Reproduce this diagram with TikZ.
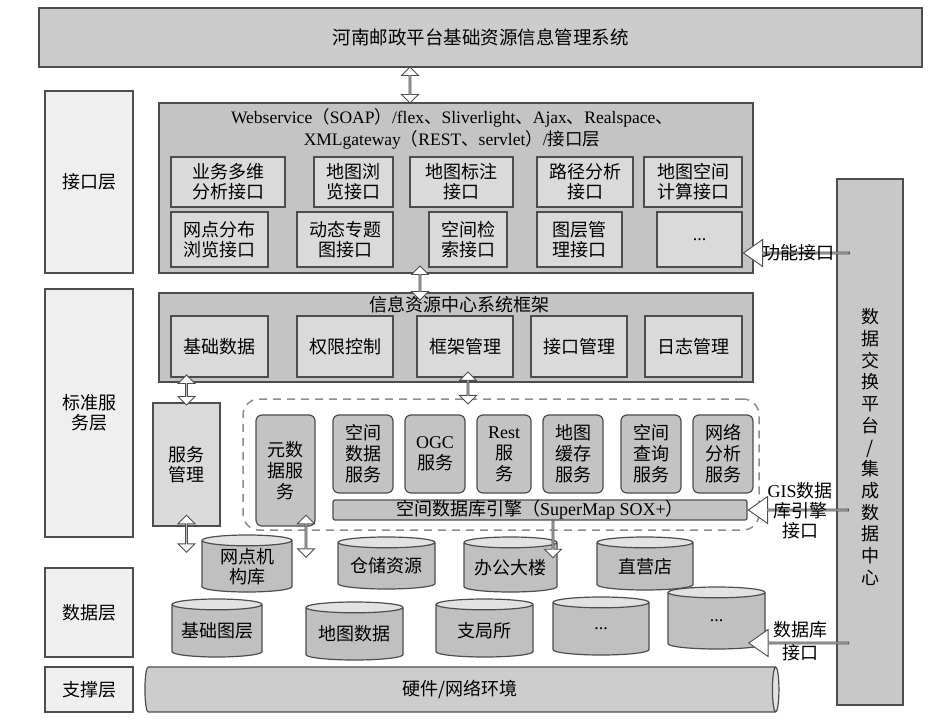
\documentclass[tikz,border=0pt]{standalone}
\usepackage{fontspec}
\setmainfont{Liberation Serif}
\newfontfamily\cjk{Noto Sans CJK SC}
\usetikzlibrary{shapes.geometric,shapes.arrows,calc}
\definecolor{edgegray}{HTML}{4D4D4D}
\definecolor{topgray}{HTML}{CCCCCC}
\definecolor{lyrgray}{HTML}{EFEFEF}
\definecolor{biggray}{HTML}{C4C4C4}
\definecolor{subgray}{HTML}{DADADA}
\definecolor{svcgray}{HTML}{C3C3C3}
\definecolor{dbgray}{HTML}{C0C0C0}
\definecolor{dbtop}{HTML}{E2E2E2}
\definecolor{dexgray}{HTML}{C8C8C8}
\definecolor{dashgray}{HTML}{8C8C8C}
\newcommand{\en}[1]{{\rmfamily #1}}

\begin{document}
\begin{tikzpicture}[x=1pt,y=-1pt,
        every node/.style={font=\cjk\fontsize{18}{20}\selectfont,align=center,inner sep=0pt},
        box/.style={rectangle,draw=edgegray,line width=1.2pt},
        lyr/.style={box,fill=lyrgray,minimum width=88pt},
        big/.style={box,fill=biggray,minimum width=594pt},
        sub/.style={box,fill=subgray},
        svc/.style={box,fill=svcgray,rounded corners=6pt,minimum width=60pt,font=\cjk\fontsize{18}{21}\selectfont},
        db/.style={cylinder,shape border rotate=90,draw=edgegray,line width=1.2pt,aspect=0.15,text width=72pt,
            cylinder uses custom fill,cylinder body fill=dbgray,cylinder end fill=dbtop},
        arr/.style={double arrow,draw=edgegray,fill=white,line width=0.9pt,minimum width=17pt,
            double arrow head extend=4pt,rotate=90},
        parr/.style={single arrow,draw=edgegray,fill=white,line width=0.9pt,minimum width=27pt,
            single arrow head extend=7pt,single arrow tip angle=70,rotate=180}
    ]
    \useasboundingbox (0,0) rectangle (947,719);

    \node[box,fill=topgray,minimum width=883pt,minimum height=59pt,font=\cjk\fontsize{18.5}{20}\selectfont] (top) at (480.5,37.5) {河南邮政平台基础资源信息管理系统};

    \node[lyr,minimum height=182pt] (lyIfc) at (89,182) {接口层};
    \node[lyr,minimum height=248pt] (lySvc) at (89,413) {标准服\\务层};
    \node[lyr,minimum height=89pt] (lyData) at (89,612.5) {数据层};
    \node[lyr,minimum height=45pt] (lySup) at (89,689.5) {支撑层};

    \node[big,minimum height=170pt] (ifc) at (456,188) {};
    \node[font=\cjk\fontsize{17.5}{22}\selectfont] (ifcTitle) at (452,129)
        {\en{Webservice}（\en{SOAP}）\en{/flex}、\en{Sliverlight}、\en{Ajax}、\en{Realspace}、\\
         \en{XMLgateway}（\en{REST}、\en{servlet}）\en{/}接口层};
    \node[sub,minimum width=114pt,minimum height=50pt] (iBiz) at (228,182) {业务多维\\分析接口};
    \node[sub,minimum width=79pt,minimum height=50pt] (iBrowse) at (353.5,182) {地图浏\\览接口};
    \node[sub,minimum width=103pt,minimum height=50pt] (iMark) at (461.5,182) {地图标注\\接口};
    \node[sub,minimum width=96pt,minimum height=50pt] (iRoute) at (585,182) {路径分析\\接口};
    \node[sub,minimum width=98pt,minimum height=50pt] (iCalc) at (693,182) {地图空间\\计算接口};
    \node[sub,minimum width=97pt,minimum height=55pt] (iSite) at (219.5,239.5) {网点分布\\浏览接口};
    \node[sub,minimum width=96pt,minimum height=55pt] (iTheme) at (345,239.5) {动态专题\\图接口};
    \node[sub,minimum width=78pt,minimum height=55pt] (iQuery) at (468,239.5) {空间检\\索接口};
    \node[sub,minimum width=85pt,minimum height=55pt] (iLayer) at (579.5,239.5) {图层管\\理接口};
    \node[sub,minimum width=85pt,minimum height=55pt] (iMore) at (699.5,239.5) {\en{...}};

    \node[big,minimum height=89pt] (frm) at (456,337.5) {};
    \node (frmTitle) at (459,305) {信息资源中心系统框架};
    \node[sub,minimum width=97pt,minimum height=61pt] (fBase) at (219.5,346.5) {基础数据};
    \node[sub,minimum width=96pt,minimum height=61pt] (fAuth) at (345,346.5) {权限控制};
    \node[sub,minimum width=96pt,minimum height=61pt] (fFrame) at (465,346.5) {框架管理};
    \node[sub,minimum width=96pt,minimum height=61pt] (fIfc) at (579,346.5) {接口管理};
    \node[sub,minimum width=97pt,minimum height=61pt] (fLog) at (693.5,346.5) {日志管理};

    \node[sub,minimum width=67pt,minimum height=123pt] (svcMgr) at (186.5,464.5) {服务\\管理};
    \node[draw=dashgray,dashed,dash pattern=on 8pt off 6pt,line width=1.5pt,rounded corners=16pt,
        minimum width=516pt,minimum height=131pt] (gis) at (501,464.5) {};
    \node[svc,minimum width=59pt,minimum height=111pt] (sMeta) at (285.5,470.5) {元数\\据服\\务};
    \node[svc,minimum height=78pt] (sSpace) at (363,454) {空间\\数据\\服务};
    \node[svc,minimum height=78pt] (sOgc) at (435,454) {\en{OGC}\\服务};
    \node[svc,minimum width=54pt,minimum height=78pt] (sRest) at (504,454) {\en{Rest}\\服\\务};
    \node[svc,minimum height=78pt] (sCache) at (573,454) {地图\\缓存\\服务};
    \node[svc,minimum height=78pt] (sQuery) at (651,454) {空间\\查询\\服务};
    \node[svc,minimum height=78pt] (sNet) at (723,454) {网络\\分析\\服务};
    \node[svc,rounded corners=2pt,minimum width=414pt,minimum height=20pt] (eng) at (540,510)
        {空间数据库引擎（\en{SuperMap SOX+}）};

    \node[db,minimum width=90pt,minimum height=57pt] (dSite) at (247,566.5) {网点机\\构库};
    \node[db,minimum width=97pt,minimum height=52pt] (dStore) at (386.5,566) {仓储资源};
    \node[db,minimum width=93pt,minimum height=55pt] (dOffice) at (510.5,567.5) {办公大楼};
    \node[db,minimum width=96pt,minimum height=53pt] (dShop) at (645,566.5) {直营店};
    \node[db,minimum width=90pt,minimum height=58pt] (dBase) at (217,631) {基础图层};
    \node[db,minimum width=97pt,minimum height=58pt] (dMap) at (354.5,634) {地图数据};
    \node[db,minimum width=97pt,minimum height=58pt] (dBranch) at (484.5,631) {支局所};
    \node[db,minimum width=96pt,minimum height=58pt] (dMore) at (601,629) {\en{...}};
    \node[db,minimum width=97pt,minimum height=62pt] (dMoreB) at (716.5,621) {\en{...}};

    \node[cylinder,draw=edgegray,line width=1.2pt,aspect=0.35,minimum height=634pt,minimum width=45pt,
        cylinder uses custom fill,cylinder body fill=dbgray!80,cylinder end fill=dbtop] (hw) at (460,689.5) {硬件/网络环境};

    \node[box,fill=dexgray,minimum width=66pt,minimum height=526pt] (dex) at (870,442) {};
    \node[font=\cjk\fontsize{18}{21.7}\selectfont] (dexText) at (870,447)
        {数\\据\\交\\换\\平\\台\\/\\集\\成\\数\\据\\中\\心};

    \coordinate (mgrEnd) at (186.5,552);
    \coordinate (metaEnd) at (306,557);
    \coordinate (engEnd) at (553,557);
    \coordinate (dbTip) at (748,643);

    \path ([xshift=-70.5pt]top.south) -- ([xshift=-70.5pt]top.south |- ifc.north) node[arr,midway,minimum height=36pt] (aTop) {};
    \path ([xshift=-36pt]ifc.south) -- ([xshift=-36pt]frm.north) node[arr,midway,minimum height=34pt] (aIfc) {};
    \path (fBase.south -| svcMgr) -- (svcMgr.north) node[arr,midway,minimum height=30pt] (aMgr) {};
    \path ([xshift=3pt]fFrame.south) -- ([xshift=3pt]fFrame.south |- gis.north) node[arr,midway,minimum height=32pt] (aGis) {};
    \path ([yshift=11pt]svcMgr.south) -- (mgrEnd) node[arr,midway,minimum height=37pt] (aMgrDb) {};
    \path (sMeta.south -| metaEnd) ++(0,-11) -- (metaEnd) node[arr,midway,minimum height=42pt] (aMeta) {};
    \path (eng.south -| engEnd) -- (engEnd) node[single arrow,draw=edgegray,fill=white,line width=0.9pt,
        minimum width=17pt,single arrow head extend=4pt,rotate=-90,midway,minimum height=37pt] (aEng) {};

    \path ([yshift=-13.5pt]iMore.east) -- ([yshift=-13.5pt]iMore.east -| dex.west) node[parr,pos=0,anchor=tip,minimum height=106pt] (aFunc) {};
    \path (eng.east) -- (eng.east -| dex.west) node[parr,pos=0,anchor=tip,minimum height=100pt] (aGisIfc) {};
    \path (dbTip) -- (dbTip -| dex.west) node[parr,pos=0,anchor=tip,minimum height=100pt] (aDb) {};

    \node (tFunc) at (798,253) {功能接口};
    \node[font=\cjk\fontsize{18}{20}\selectfont] (tGis) at (800,511) {\en{GIS}数据\\库引擎\\接口};
    \node[font=\cjk\fontsize{18}{23}\selectfont] (tDb) at (800,641) {数据库\\接口};
\end{tikzpicture}
\end{document}
